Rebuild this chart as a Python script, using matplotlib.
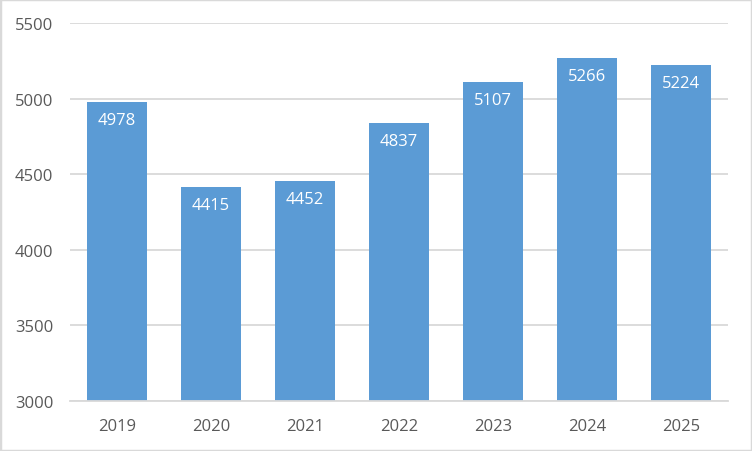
import matplotlib
matplotlib.use('Agg')
import matplotlib.pyplot as plt
from matplotlib.patches import Rectangle

years = ['2019', '2020', '2021', '2022', '2023', '2024', '2025']
values = [4978, 4415, 4452, 4837, 5107, 5266, 5224]

bar_color = '#5b9bd5'
grid_color = '#d9d9d9'
text_color = '#595959'

plt.rcParams['font.family'] = ['Open Sans', 'DejaVu Sans']

fig = plt.figure(figsize=(7.52, 4.52), dpi=100)
ax = fig.add_axes([70/752, 1 - 402/452, 658/752, 378/452])

x = range(len(years))
bars = ax.bar(x, values, width=0.638, color=bar_color, zorder=2)

for i, v in enumerate(values):
    ax.annotate(str(v), (i, v), xytext=(0, -18), textcoords='offset pixels',
                ha='center', va='center', color='white', fontsize=12)

ax.set_ylim(3000, 5500)
ax.set_xlim(-0.5, len(years) - 0.5)
ax.set_yticks(range(3000, 5501, 500))
ax.set_xticks(list(x))
ax.set_xticklabels(years)
ax.yaxis.grid(True, color=grid_color, linewidth=1.3, zorder=0)
ax.set_axisbelow(True)
for s in ['top', 'right', 'left']:
    ax.spines[s].set_visible(False)
ax.spines['bottom'].set_color(grid_color)
ax.spines['bottom'].set_linewidth(1.3)
ax.tick_params(axis='both', length=0, colors=text_color, labelsize=12)
ax.tick_params(axis='y', pad=12)
ax.tick_params(axis='x', pad=12)

fig.patches.append(Rectangle((0, 0), 1, 1, transform=fig.transFigure,
                             fill=False, edgecolor=grid_color, linewidth=2.5))

fig.savefig('out.png', dpi=100)
